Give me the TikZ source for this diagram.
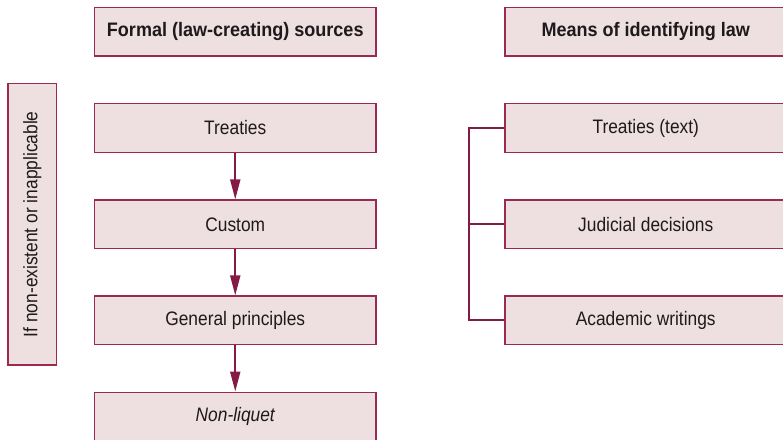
\documentclass[tikz,border=0pt]{standalone}
\usepackage{fontspec}
\setmainfont[FakeStretch=0.89, BoldFeatures={FakeStretch=0.925}]{Liberation Sans}
\usetikzlibrary{arrows.meta}
\definecolor{boxfill}{HTML}{EEDFE1}
\definecolor{boxline}{HTML}{9A2A52}
\definecolor{linkcol}{HTML}{861A47}
\definecolor{ink}{HTML}{1E1A1C}
\begin{document}
\begin{tikzpicture}[x=1pt,y=1pt,
  srcbox/.style={draw=boxline, fill=boxfill, line width=1.3pt,
    minimum width=281.5pt, minimum height=48.5pt, inner sep=0pt,
    font=\fontsize{19.5}{23}\selectfont, text=ink},
  headbox/.style={srcbox, font=\fontsize{19.5}{23}\selectfont\bfseries},
  flow/.style={draw=linkcol, line width=2pt,
    -{Triangle[length=20pt,width=10pt]}},
  bracket/.style={draw=linkcol, line width=2pt}]
\clip (0,0) rectangle (783,-439);
\fill[white] (0,0) rectangle (783,-439);

% formal sources, in order of application
\node[headbox] (fh) at (235.25,-31.7) {Formal (law-creating) sources};
\node[srcbox] (tr) at (235.25,-128) {Treaties};
\node[srcbox] (cu) at (235.25,-224.3) {Custom};
\node[srcbox] (gp) at (235.25,-320.3) {General principles};
\node[srcbox] (nl) at (235.25,-416.4) {\itshape Non-liquet};

% side note
\node[srcbox, minimum width=48.5pt, minimum height=281.5pt] (side) at (32.25,-224.3) {};
\node[rotate=90, font=\fontsize{19.5}{23}\selectfont, text=ink] (sidetxt) at (side.center) {If non-existent or inapplicable};

% means of identifying law
\node[headbox] (mh) at (645.75,-31.7) {Means of identifying law};
\node[srcbox] (tt) at (645.75,-128) {Treaties (text)};
\node[srcbox] (jd) at (645.75,-224.3) {Judicial decisions};
\node[srcbox] (aw) at (645.75,-320.3) {Academic writings};

% connectors
\draw[flow] (tr) -- (cu);
\draw[flow] (cu) -- (gp);
\draw[flow] (gp) -- (nl);

\draw[bracket] (tt.west) -- ++(-35,0) coordinate (bt) |- (aw.west);
\draw[bracket] (jd.west) -- (jd.west -| bt);
\end{tikzpicture}
\end{document}
